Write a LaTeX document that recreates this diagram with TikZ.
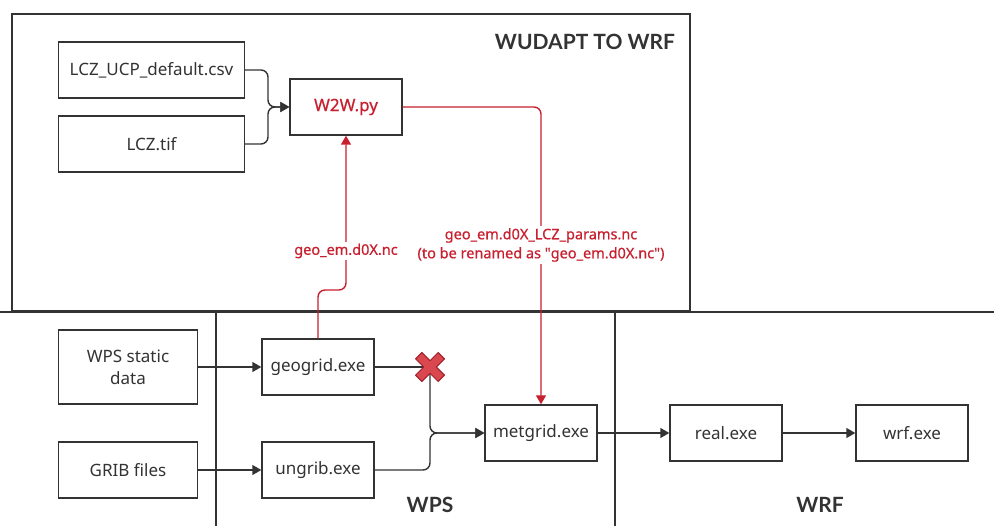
\documentclass[tikz,border=0pt]{standalone}
\usepackage{fontspec}
\setmainfont{Noto Sans}
\newfontfamily\titlefont{Lato}
\newfontfamily\redfont[FakeBold=0.6]{Noto Sans}
\usetikzlibrary{arrows.meta}
\definecolor{ink}{HTML}{333333}
\definecolor{wred}{HTML}{C8202F}
\definecolor{xfill}{HTML}{D9474F}
\definecolor{xdark}{HTML}{A0202A}
\begin{document}
\begin{tikzpicture}[x=1pt,y=-1pt,
  box/.style={draw=ink, line width=1.4pt, text=ink, font=\fontsize{17}{21}\selectfont,
    minimum width=112pt, minimum height=56pt, inner sep=2pt, align=center},
  frame/.style={draw=ink, line width=1.4pt},
  conn/.style={draw=ink, line width=1.4pt, rounded corners=7pt},
  arr/.style={-{Triangle[length=9pt,width=10pt]}},
  rconn/.style={draw=wred, line width=1.4pt, rounded corners=7pt},
  rlabel/.style={text=wred, fill=white, font=\redfont\fontsize{14.5}{19}\selectfont, align=center, inner sep=2pt},
  title/.style={text=ink, font=\titlefont\bfseries\fontsize{21}{24}\selectfont}
]
\useasboundingbox (0,0) rectangle (994,526);
\fill[white] (0,0) rectangle (994,526);

% frames
\draw[frame] (12,14) rectangle (690,311);
\draw[frame] (0,312) -- (994,312);
\draw[frame] (216,312) -- (216,526);
\draw[frame] (615,312) -- (615,526);

\node[title] (ttop) at (585,42) {WUDAPT TO WRF};
\node[title] (twps) at (430,505) {WPS};
\node[title] (twrf) at (820,505) {WRF};

% boxes
\node[box, minimum width=186pt] (csv) at (151.5,70) {LCZ\_UCP\_default.csv};
\node[box, minimum width=186pt] (tif) at (151.5,144) {LCZ.tif};
\node[box, text=wred, font=\redfont\fontsize{17}{21}\selectfont] (w2w) at (346,107) {W2W.py};
\node[box, minimum width=139pt, minimum height=74pt] (static) at (128,367) {WPS static\\[1pt]data};
\node[box, minimum width=139pt] (grib) at (128,470) {GRIB files};
\node[box] (geogrid) at (318,367) {geogrid.exe};
\node[box] (ungrib) at (318,470) {ungrib.exe};
\node[box] (metgrid) at (541,433) {metgrid.exe};
\node[box] (real) at (726,433) {real.exe};
\node[box] (wrf) at (912,433) {wrf.exe};

\coordinate (xm) at (430,367);

% connectors
\draw[conn, arr] (csv.east) -- (268,70) -- (268,107) -- (w2w.west);
\draw[conn, arr] (tif.east) -- (268,144) -- (268,107) -- (w2w.west);
\draw[conn, arr] (static.east |- geogrid.west) -- (geogrid.west);
\draw[conn, arr] (grib.east) -- (ungrib.west);
\draw[conn] (geogrid.east) -- (xm);
\draw[conn, arr] (xm) -- (430,433) -- (metgrid.west);
\draw[conn, arr] (ungrib.east) -- (430,470) -- (430,433) -- (metgrid.west);
\draw[conn, arr] (metgrid.east) -- (real.west);
\draw[conn, arr] (real.east) -- (wrf.west);

% red connectors
\draw[rconn, arr] (geogrid.north) -- (318,290) -- (346,290) -- (w2w.south);
\draw[rconn, arr] (w2w.east) -- (541,107) -- (metgrid.north);
\node[rlabel] (l1) at (346,251) {geo\_em.d0X.nc};
\node[rlabel] (l2) at (541,245) {geo\_em.d0X\_LCZ\_params.nc\\(to be renamed as \textquotedbl geo\_em.d0X.nc\textquotedbl)};

% cross mark
\begin{scope}[shift={(xm)}, rotate=45]
\filldraw[fill=xfill, draw=xdark, line width=0.9pt, line join=round]
  (4.5,4.5) -- (16,4.5) -- (16,-4.5) -- (4.5,-4.5) -- (4.5,-16) -- (-4.5,-16) -- (-4.5,-4.5)
  -- (-16,-4.5) -- (-16,4.5) -- (-4.5,4.5) -- (-4.5,16) -- (4.5,16) -- cycle;
\end{scope}
\end{tikzpicture}
\end{document}
